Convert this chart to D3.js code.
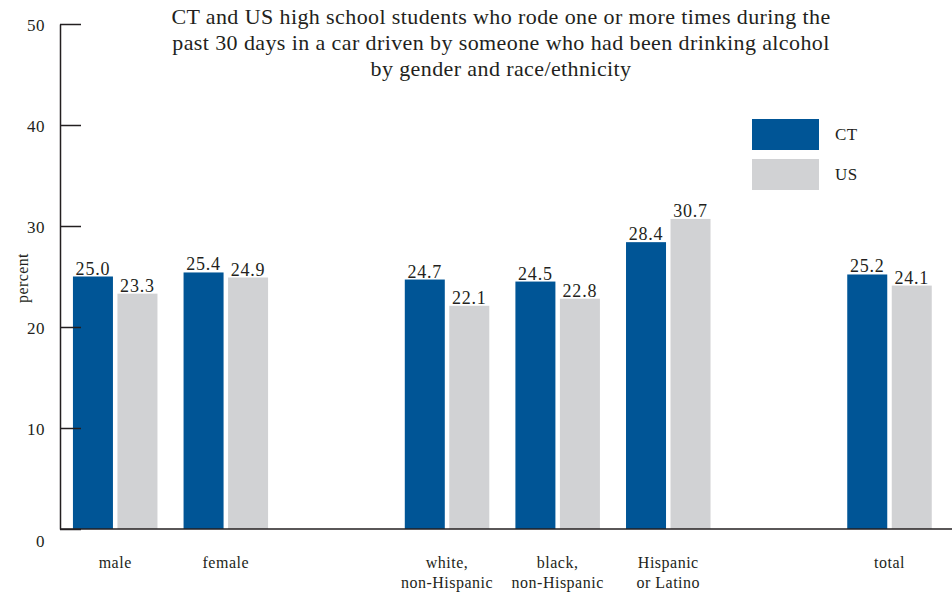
<!DOCTYPE html>
<html>
<head>
<meta charset="utf-8">
<script src="https://cdn.jsdelivr.net/npm/d3@7"></script>
<style>
  html, body { margin: 0; padding: 0; background: #ffffff; }
  svg { display: block; }
  text { font-family: "Liberation Serif", "DejaVu Serif", serif; fill: #231f20; }
</style>
</head>
<body>
<svg id="chart" width="952" height="596"></svg>
<script>
// ---- data ----
const categories = ["male", "female", "gap1", "white", "black", "hispanic", "gap2", "total"];
const categoryLabels = {
  male: ["male"],
  female: ["female"],
  gap1: [],
  white: ["white,", "non-Hispanic"],
  black: ["black,", "non-Hispanic"],
  hispanic: ["Hispanic", "or Latino"],
  gap2: [],
  total: ["total"]
};
const seriesNames = ["CT", "US"];
const ctValues = [25.0, 25.4, null, 24.7, 24.5, 28.4, null, 25.2];
const usValues = [23.3, 24.9, null, 22.1, 22.8, 30.7, null, 24.1];
const yTicks = [0, 10, 20, 30, 40, 50];
const titleLines = [
  "CT and US high school students who rode one or more times during the",
  "past 30 days in a car driven by someone who had been drinking alcohol",
  "by gender and race/ethnicity"
];
const colors = { CT: "#005596", US: "#d1d2d4" };

// ---- layout ----
const svg = d3.select("#chart");
const plotLeft = 60, plotRight = 952, plotTop = 24, plotBottom = 529;

const y = d3.scaleLinear().domain([0, 50]).range([plotBottom, plotTop]);
const x0 = d3.scaleBand().domain(categories).range([plotLeft, plotRight])
  .paddingInner(0.236).paddingOuter(0.15).align(0.39);
const x1 = d3.scaleBand().domain(seriesNames).range([0, x0.bandwidth()])
  .paddingInner(0.101).paddingOuter(0);

const rows = categories.map((c, i) => ({ cat: c, CT: ctValues[i], US: usValues[i] }));

// bars
const groups = svg.append("g").selectAll("g").data(rows).join("g")
  .attr("transform", d => `translate(${x0(d.cat)},0)`);

groups.selectAll("rect")
  .data(d => seriesNames.filter(s => d[s] != null).map(s => ({ s, v: d[s] })))
  .join("rect")
  .attr("x", d => x1(d.s))
  .attr("width", x1.bandwidth())
  .attr("y", d => y(d.v))
  .attr("height", d => y(0) - y(d.v))
  .attr("fill", d => colors[d.s]);

groups.selectAll("text.val")
  .data(d => seriesNames.filter(s => d[s] != null).map(s => ({ s, v: d[s] })))
  .join("text")
  .attr("class", "val")
  .attr("x", d => x1(d.s) + x1.bandwidth() / 2)
  .attr("y", d => y(d.v) - 2)
  .attr("text-anchor", "middle")
  .attr("font-size", 18)
  .attr("letter-spacing", 0.8)
  .text(d => d.v.toFixed(1));

// y axis
const yAxis = svg.append("g")
  .attr("transform", `translate(${plotLeft},0)`)
  .call(d3.axisLeft(y).tickValues(yTicks).tickSize(-21).tickSizeOuter(0).tickPadding(15).tickFormat(d3.format("d")));
yAxis.select(".domain").attr("stroke", "#231f20").attr("stroke-width", 1.5);
yAxis.selectAll(".tick line").attr("stroke", "#231f20").attr("stroke-width", 1.5);
yAxis.selectAll(".tick text")
  .attr("font-family", "Liberation Serif, serif")
  .attr("font-size", 17)
  .attr("letter-spacing", 0.5)
  .attr("fill", "#231f20")
  .attr("dy", d => d === 0 ? "1.05em" : "0.36em");

// x baseline
svg.append("line")
  .attr("x1", plotLeft).attr("x2", plotRight)
  .attr("y1", y(0)).attr("y2", y(0))
  .attr("stroke", "#231f20").attr("stroke-width", 1.5);

// category labels
groups.each(function(d) {
  const lines = categoryLabels[d.cat];
  const g = d3.select(this);
  lines.forEach((t, i) => {
    g.append("text")
      .attr("x", x0.bandwidth() / 2)
      .attr("y", 568 + i * 20)
      .attr("text-anchor", "middle")
      .attr("font-size", 16)
      .attr("letter-spacing", 0.5)
      .text(t);
  });
});

// y label
svg.append("text")
  .attr("transform", "translate(28,278) rotate(-90)")
  .attr("text-anchor", "middle")
  .attr("font-size", 16)
  .attr("letter-spacing", 0.4)
  .text("percent");

// title
svg.append("g").selectAll("text").data(titleLines).join("text")
  .attr("x", 501)
  .attr("y", (d, i) => 24 + i * 26)
  .attr("text-anchor", "middle")
  .attr("font-size", 22)
  .attr("letter-spacing", 0.4)
  .text(d => d);

// legend
const legend = svg.append("g").selectAll("g").data(seriesNames).join("g")
  .attr("transform", (d, i) => `translate(752,${119 + i * 40})`);
legend.append("rect").attr("width", 67).attr("height", 31).attr("fill", d => colors[d]);
legend.append("text").attr("x", 83).attr("y", 21).attr("font-size", 17).attr("letter-spacing", 0.4).text(d => d);
</script>
</body>
</html>
